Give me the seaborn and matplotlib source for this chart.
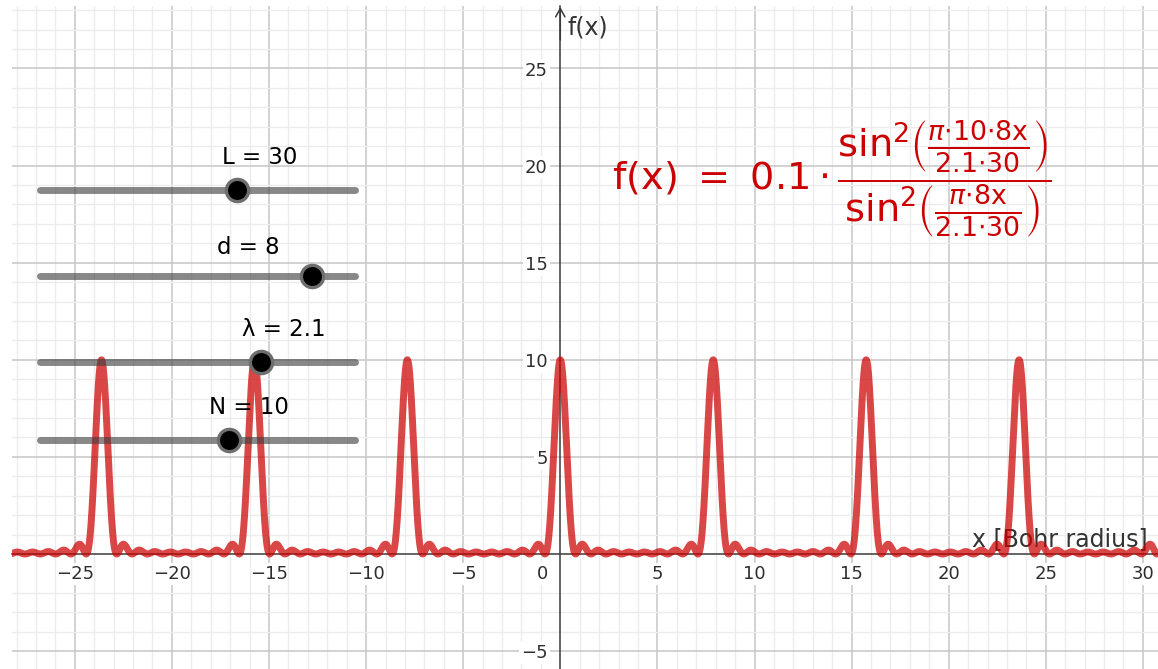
import numpy as np
import pandas as pd
import matplotlib
matplotlib.use("Agg")
import matplotlib.pyplot as plt
import seaborn as sns

# Parameters of the N-slit interference pattern (slider values)
L = 30       # distance to the screen
d = 8        # slit spacing
lam = 2.1    # wavelength
N = 10       # number of slits

slider_names = ["L", "d", "λ", "N"]
slider_values = [L, d, lam, N]
slider_ranges = [(0, 48), (0, 9.25), (0, 3), (1, 16)]

x_ticks = [-25, -20, -15, -10, -5, 5, 10, 15, 20, 25, 30]
y_ticks = [-5, 5, 10, 15, 20, 25]

x_label = "x [Bohr radius]"
y_label = "f(x)"

# f(x) = (1/N) * sin^2(pi N d x / (lam L)) / sin^2(pi d x / (lam L))
coef = 1 / N
xs = np.linspace(-28.4, 30.9, 8001)
phase = np.pi * d * xs / (lam * L)
num = np.sin(N * phase) ** 2
den = np.sin(phase) ** 2
ok = den > 1e-12
ys = coef * np.where(ok, num / np.where(ok, den, 1.0), N ** 2)
curve = pd.DataFrame({"x": xs, "f": ys})

# ---- figure / view window ----
W, H, DPI = 1158, 669, 100
sns.set_theme(style="white")
plt.rcParams["font.family"] = ["DejaVu Sans"]
plt.rcParams["mathtext.fontset"] = "dejavusans"

fig = plt.figure(figsize=(W / DPI, H / DPI), dpi=DPI)
fig.patch.set_facecolor("white")
left_px, top_px = 12, 6
ax = fig.add_axes([left_px / W, 0, (W - left_px) / W, (H - top_px) / H])
ax.set_facecolor("white")

unit = 19.42            # screen pixels per unit
ox, oy = 560.3, 554.0   # screen position of the origin
ax.set_xlim((left_px - ox) / unit, (W - ox) / unit)
ax.set_ylim((oy - H) / unit, (oy - top_px) / unit)

def screen(px, py):
    """Screen pixel (from top-left) -> data coordinates."""
    return ax.transData.inverted().transform((px, H - py))

# grid
ax.set_xticks(x_ticks)
ax.set_xticklabels([str(t).replace("-", "\u2212") for t in x_ticks])
ax.set_yticks(y_ticks)
ax.set_yticklabels([str(t).replace("-", "\u2212") for t in y_ticks])
ax.set_xticks([v for v in range(-28, 31) if v % 5], minor=True)
ax.set_yticks([v for v in range(-5, 29) if v % 5 and v != -1], minor=True)
ax.grid(which="minor", color="#ececec", lw=1.0)
ax.grid(which="major", color="#c6c6c6", lw=1.1)
ax.set_axisbelow(True)

# axes through the origin
for s in ("top", "right"):
    ax.spines[s].set_visible(False)
ax.spines["left"].set_position(("data", 0))
ax.spines["bottom"].set_position(("data", 0))
for s in ("left", "bottom"):
    ax.spines[s].set_color("#3a3a3a")
    ax.spines[s].set_linewidth(1.1)
ax.tick_params(which="both", length=0, labelsize=13, labelcolor="#2e2e2e")
ax.tick_params(axis="x", pad=8)
ax.tick_params(axis="y", pad=9)
label_box = dict(facecolor="white", edgecolor="none", boxstyle="square,pad=0.12")
for lab in ax.get_xticklabels() + ax.get_yticklabels():
    lab.set_bbox(label_box)
ax.annotate("0", xy=(0, 0), xytext=(-9, -8), textcoords="offset points",
            ha="right", va="top", fontsize=13, color="#2e2e2e", bbox=label_box)

# arrow at the top of the y axis
ax.annotate("", xy=(0, screen(ox, 7)[1]), xytext=(0, screen(ox, 40)[1]),
            arrowprops=dict(arrowstyle="->,head_length=0.5,head_width=0.28",
                            lw=1.1, color="#3a3a3a", shrinkA=0, shrinkB=0),
            annotation_clip=False)

ax.text(*screen(567, 35), y_label, ha="left", va="baseline",
        fontsize=17, color="#333333")
ax.text(*screen(1148, 546), x_label, ha="right", va="baseline",
        fontsize=17, color="#333333", zorder=2)

# the function graph
sns.lineplot(data=curve, x="x", y="f", ax=ax, color="#cc0000", alpha=0.72,
             lw=5, estimator=None, sort=False, zorder=3)
ax.set_xlabel("")
ax.set_ylabel("")

# sliders
track_px = (40, 355)
rows_py = [190, 276, 362, 440]
label_px = [(260, 158), (248, 248), (284, 330), (249, 407)]
for name, val, (lo, hi), py, (lx, ly) in zip(slider_names, slider_values,
                                             slider_ranges, rows_py, label_px):
    xa, ya = screen(track_px[0], py)
    xb, _ = screen(track_px[1], py)
    ax.plot([xa, xb], [ya, ya], color="#404040", alpha=0.62, lw=5,
            solid_capstyle="round", zorder=4)
    xk = xa + (val - lo) / (hi - lo) * (xb - xa)
    ax.plot([xk], [ya], "o", ms=16, mfc="black", mec="#6e6e6e",
            mew=2.4, zorder=5)
    ax.text(*screen(lx, ly), f"{name} = {val:g}", ha="center", va="center",
            fontsize=16.5, color="black", zorder=6)

# formula
dot = r"{\cdot}"
def frac_in(top):
    return (r"\!\left(\frac{\pi" + dot + top + r"\mathrm{x}}{"
            + f"{lam:g}" + dot + f"{L:g}" + r"}\right)")

formula = (r"$\mathrm{f(x)}\ =\ " + f"{coef:g}" + r"\cdot\dfrac{\sin^{2}"
           + frac_in(f"{N:g}" + dot + f"{d:g}") + r"}{\sin^{2}"
           + frac_in(f"{d:g}") + r"}$")
ax.text(*screen(612, 190), formula, ha="left", va="baseline",
        fontsize=27.5, color="#cc0000", zorder=6)

fig.savefig("out.png", dpi=DPI)
